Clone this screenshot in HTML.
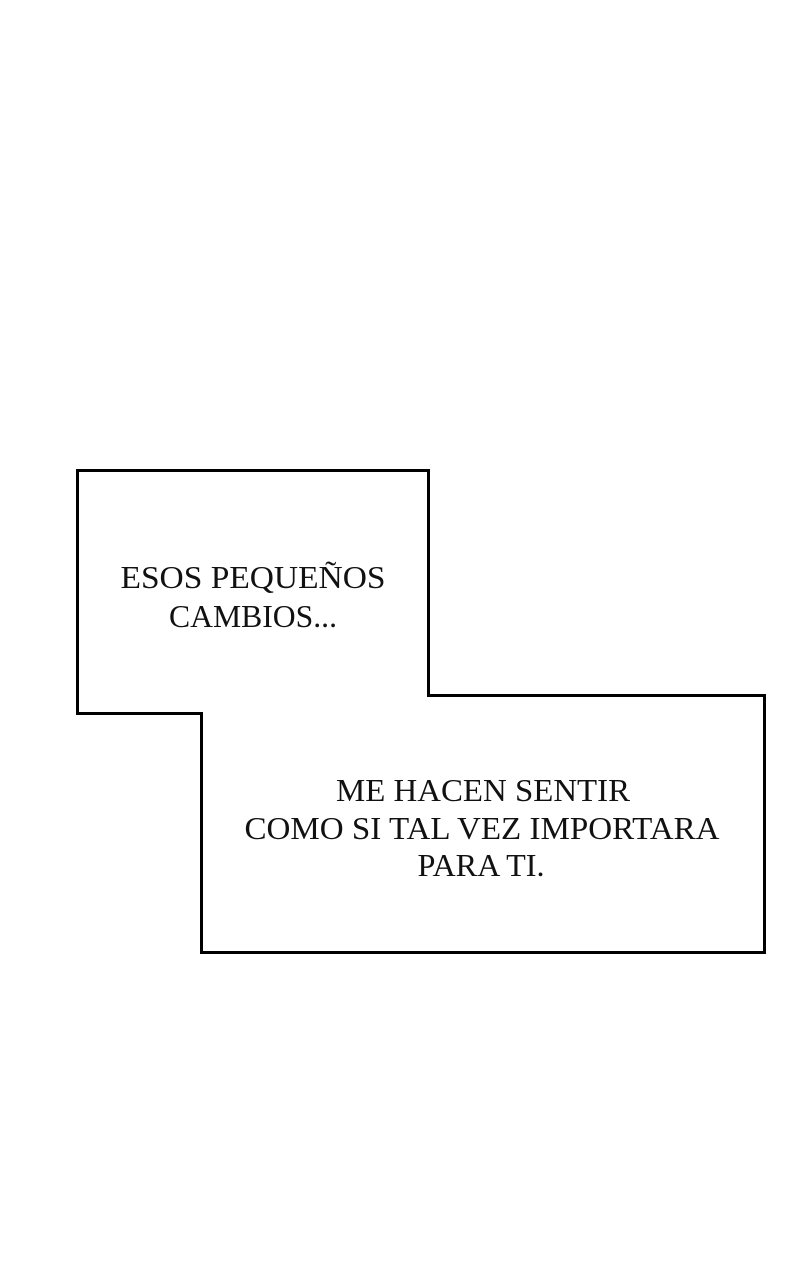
<!DOCTYPE html>
<html><head><meta charset="utf-8"><style>html,body{margin:0;padding:0;background:#fff;}svg{display:block}</style></head>
<body>
<svg width="800" height="1280" viewBox="0 0 800 1280" xmlns="http://www.w3.org/2000/svg">
<rect width="800" height="1280" fill="#fff"/>
<polygon points="77.5,470.5 428.5,470.5 428.5,695.5 764.5,695.5 764.5,952.5 201.5,952.5 201.5,713.5 77.5,713.5" fill="#fff" stroke="#000" stroke-width="3"/>
<g font-family="'Liberation Serif', serif" font-size="32" fill="#111" text-anchor="middle">
<text x="253" y="588" textLength="265" lengthAdjust="spacingAndGlyphs">ESOS PEQUEÑOS</text>
<text x="253" y="627" textLength="168" lengthAdjust="spacingAndGlyphs">CAMBIOS...</text>
<text x="483" y="801" textLength="294" lengthAdjust="spacingAndGlyphs">ME HACEN SENTIR</text>
<text x="482" y="839" textLength="475" lengthAdjust="spacingAndGlyphs">COMO SI TAL VEZ IMPORTARA</text>
<text x="481" y="876" textLength="127" lengthAdjust="spacingAndGlyphs">PARA TI.</text>
</g>
</svg>
</body></html>
